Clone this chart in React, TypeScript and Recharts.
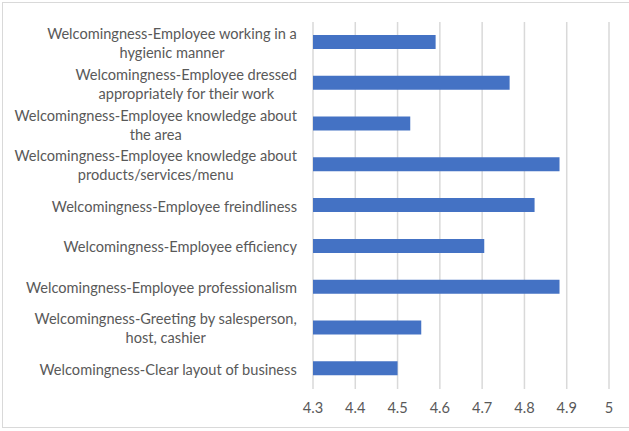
import React from "react";
import { BarChart, Bar, XAxis, YAxis, CartesianGrid } from "recharts";

const categories: string[][] = [
  ["Welcomingness-Employee working in a", "hygienic manner"],
  ["Welcomingness-Employee dressed", "appropriately for their work"],
  ["Welcomingness-Employee knowledge about", "the area"],
  ["Welcomingness-Employee knowledge about", "products/services/menu"],
  ["Welcomingness-Employee freindliness"],
  ["Welcomingness-Employee efficiency"],
  ["Welcomingness-Employee professionalism"],
  ["Welcomingness-Greeting by salesperson,", "host, cashier"],
  ["Welcomingness-Clear layout of business"],
];
const values: number[] = [4.59, 4.765, 4.53, 4.883, 4.824, 4.705, 4.883, 4.556, 4.5];
const xTicks: number[] = [4.3, 4.4, 4.5, 4.6, 4.7, 4.8, 4.9, 5.0];

const data = categories.map((lines, i) => ({
  name: lines.join(" "),
  idx: i,
  value: values[i],
}));

const FONT = "Lato, 'Open Sans', sans-serif";
const FONT_SIZE = 14.6;
const TEXT_COLOR = "#595959";

let ctx: CanvasRenderingContext2D | null = null;
function measure(t: string): number {
  if (!ctx) {
    const c = document.createElement("canvas");
    ctx = c.getContext("2d");
  }
  if (!ctx) return t.length * 7;
  ctx.font = `${FONT_SIZE}px Lato`;
  return ctx.measureText(t).width;
}

const YTick = (props: any) => {
  const { y, payload, index } = props;
  const lines = categories[index] || [String(payload.value)];
  const right = 297;
  const maxW = Math.max(...lines.map(measure));
  const cx = right - maxW / 2;
  const lh = 19;
  return (
    <g>
      {lines.map((l, i) => (
        <text
          key={i}
          x={cx}
          y={y + 1 + (i - (lines.length - 1) / 2) * lh}
          dy="0.35em"
          textAnchor="middle"
          fill={TEXT_COLOR}
          fontSize={FONT_SIZE}
          fontFamily={FONT}
        >
          {l}
        </text>
      ))}
    </g>
  );
};

export default function App() {
  return (
    <div
      style={{
        position: "fixed",
        left: 0,
        top: 0,
        width: 629,
        height: 431,
        background: "#fff",
      }}
    >
      <div
        style={{
          position: "absolute",
          left: 2,
          top: 2,
          width: 627,
          height: 426,
          borderTop: "1.5px solid #d9d9d9",
          borderLeft: "1.5px solid #d9d9d9",
          borderBottom: "1.5px solid #d9d9d9",
          boxSizing: "border-box",
        }}
      />
      <div style={{ position: "absolute", left: 0, top: 0 }}>
        <BarChart
          width={629}
          height={431}
          data={data}
          layout="vertical"
          margin={{ top: 22, right: 20, bottom: 12, left: 0 }}
          barSize={14}
        >
          <CartesianGrid
            horizontal={false}
            vertical={true}
            stroke="#d9d9d9"
            strokeWidth={1.5}
          />
          <XAxis
            type="number"
            domain={[4.3, 5]}
            ticks={xTicks}
            height={30}
            allowDataOverflow
            axisLine={false}
            tickLine={false}
            tickSize={0}
            tickMargin={14}
            tickFormatter={(v: number) => (v === 5 ? "5" : v.toFixed(1))}
            tick={{ fill: TEXT_COLOR, fontSize: FONT_SIZE, fontFamily: FONT }}
          />
          <YAxis
            type="category"
            dataKey="name"
            width={313}
            axisLine={false}
            tickLine={false}
            interval={0}
            tick={<YTick />}
          />
          <Bar dataKey="value" fill="#4472C4" isAnimationActive={false} />
        </BarChart>
      </div>
    </div>
  );
}
